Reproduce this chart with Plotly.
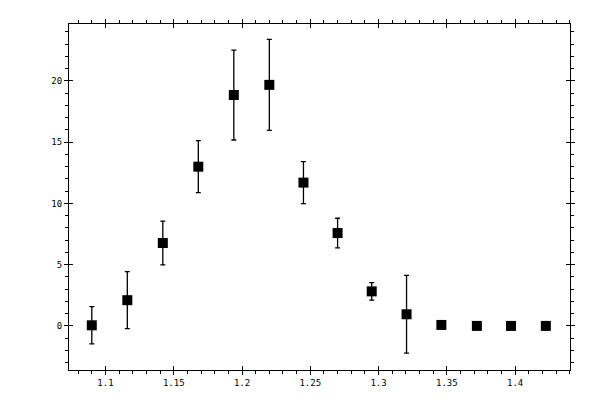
import plotly.graph_objects as go

x_vals = [1.090, 1.116, 1.142, 1.168, 1.194, 1.220, 1.245,
          1.270, 1.295, 1.3205, 1.346, 1.372, 1.397, 1.4225]
y_vals = [0.05, 2.1, 6.77, 13.0, 18.85, 19.68, 11.7,
          7.58, 2.82, 0.95, 0.08, 0.0, 0.0, 0.0]
y_err = [1.52, 2.33, 1.78, 2.12, 3.67, 3.71, 1.72,
         1.21, 0.72, 3.18, 0.0, 0.0, 0.0, 0.0]

x_range = [1.0733, 1.4402]
y_range = [-3.6, 24.65]

fig = go.Figure()

fig.add_trace(go.Scatter(
    x=x_vals, y=y_vals,
    mode='markers',
    marker=dict(symbol='square', size=10, color='black'),
    error_y=dict(type='data', array=y_err, visible=True,
                 color='black', thickness=1.3, width=2.5),
    showlegend=False,
))

# empty trace so the overlay axes (inner half of the major ticks) get drawn
fig.add_trace(go.Scatter(x=[], y=[], xaxis='x2', yaxis='y2', showlegend=False))

axis_common = dict(showgrid=False, zeroline=False, showline=True,
                   linecolor='black', linewidth=1.2, mirror='ticks',
                   tickcolor='black', tickwidth=1.2,
                   tickfont=dict(family='DejaVu Sans Mono', size=9, color='black'))

# page body adds 8px on top/left, so margins are shifted to compensate
fig.update_layout(
    width=600, height=400,
    margin=dict(l=61, r=38, t=11, b=38),
    paper_bgcolor='white', plot_bgcolor='white',
    xaxis=dict(range=x_range, tickvals=[1.1, 1.15, 1.2, 1.25, 1.3, 1.35, 1.4],
               ticktext=['1.1', '1.15', '1.2', '1.25', '1.3', '1.35', '1.4'],
               ticks='outside', ticklen=4,
               minor=dict(dtick=0.01, tick0=1.0, ticks='outside', ticklen=3,
                          tickcolor='black', tickwidth=1),
               **axis_common),
    yaxis=dict(range=y_range, tickvals=[0, 5, 10, 15, 20],
               ticks='outside', ticklen=4,
               minor=dict(dtick=1, tick0=0, ticks='outside', ticklen=3,
                          tickcolor='black', tickwidth=1),
               **axis_common),
    xaxis2=dict(range=x_range, overlaying='x', anchor='y2', side='bottom',
                tickvals=[1.1, 1.15, 1.2, 1.25, 1.3, 1.35, 1.4],
                ticks='inside', ticklen=4, showticklabels=False,
                showgrid=False, zeroline=False, showline=False, mirror='ticks',
                tickcolor='black', tickwidth=1.2),
    yaxis2=dict(range=y_range, overlaying='y', anchor='x2', side='left',
                tickvals=[0, 5, 10, 15, 20],
                ticks='inside', ticklen=4, showticklabels=False,
                showgrid=False, zeroline=False, showline=False, mirror='ticks',
                tickcolor='black', tickwidth=1.2),
)

fig.write_html("out.html")
